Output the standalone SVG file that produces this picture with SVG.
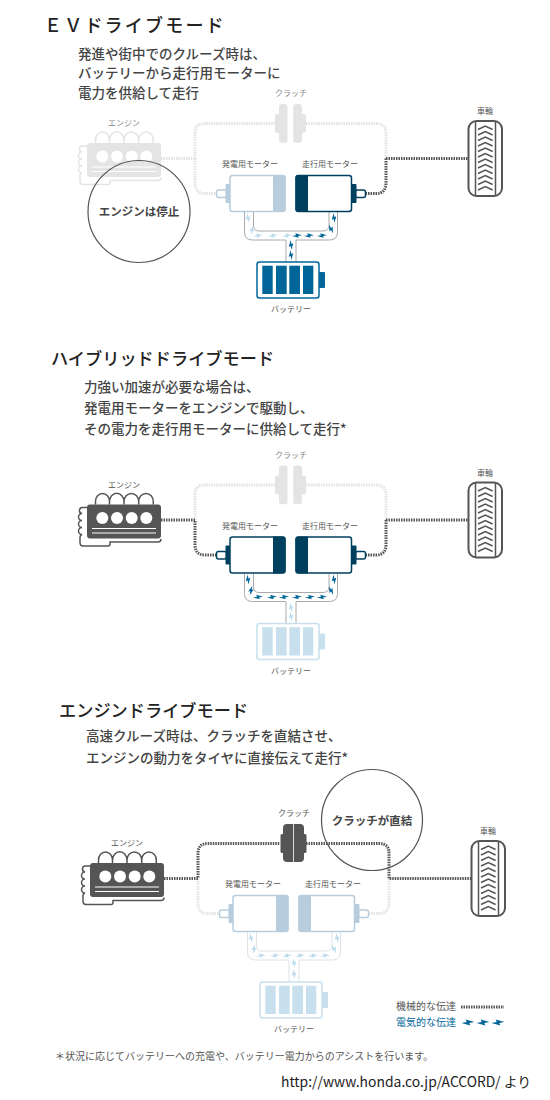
<svg xmlns="http://www.w3.org/2000/svg" width="550" height="1100" viewBox="0 0 550 1100">
<style>
text{font-family:"Noto Sans CJK JP","Noto Sans",sans-serif;}
.h{font-size:17.200px;font-weight:500;fill:#222;}
.b{font-size:13.500px;font-weight:500;fill:#444;}
.l{font-size:8px;fill:#555;text-anchor:middle;}
.c{font-size:11.500px;font-weight:700;fill:#444;text-anchor:middle;}
.ring{fill:none;stroke:#555;stroke-width:1.200;}
.on{fill:none;stroke:#555;stroke-width:3;stroke-dasharray:1.500 1;}
.off{fill:none;stroke:#e3e3e3;stroke-width:3;stroke-dasharray:1.500 1;}
.w{fill:none;stroke:#aaa;stroke-width:1;}
.wl{fill:none;stroke:#dde3e8;stroke-width:1;}
.eon{color:#555;}.eoff{color:#e4e4e4;}
.mon{color:#00405f;}.moff{color:#b7cddd;}
.bon{color:#00669a;}.boff{color:#c8e0ed;}
.zon{color:#00669a;}.zoff{color:#bcdcec;}
</style>
<defs>
<g id="engine">
<path d="M87 146H83a3 3 0 0 0 -1 6a3.500 3.500 0 0 0 0 7a3.500 3.500 0 0 0 0 7a3.500 3.500 0 0 0 0 7a3 3 0 0 0 -2 3V181q0 3.500 3 3.500H108q2 0 2-2V180.500H158q3 0 3-3" fill="#fff" stroke="currentColor" stroke-width="1.500"/>
<path d="M95.500 143v-3a7 8 0 0 1 14 0v3M109.500 143v-3a7 8 0 0 1 14.500 0v3M124 143v-3a7.300 8 0 0 1 14.700 0v3M138.700 143v-3a7.300 8 0 0 1 14.600 0v3" fill="#fff" stroke="currentColor" stroke-width="1.500"/>
<rect x="87" y="143" width="74" height="34" rx="3" fill="currentColor"/>
<g fill="#fff"><circle cx="102.300" cy="156.500" r="6"/><circle cx="117" cy="156.500" r="6"/><circle cx="131.700" cy="156.500" r="6"/><circle cx="146.300" cy="156.500" r="6"/></g>
<path d="M92 167H156M92 171.500H156" stroke="#fff" stroke-width="1.200"/>
</g>
<g id="clutch" fill="currentColor">
<path d="M278 114h1v-7q0-3 3-3h3q2.500 0 2.500 3v33q0 2.700-2.500 2.700h-3q-3 0-3-3v-7h-1q-3 0-3-1.500v-16q0-1.200 3-1.200z"/>
<path d="M303 114h-1v-7q0-3-3-3h-3q-2.800 0-2.800 3v33q0 2.700 2.800 2.700h3q3 0 3-3v-7h1q3 0 3-1.500v-16q0-1.200-3-1.200z"/>
</g>
<g id="clutch-closed" fill="currentColor">
<path d="M280 114v-6q0-4 4-4h13q4 0 4 4v6h1q1.500 0 1.500 1.500v16q0 1.500-1.500 1.500h-1v5q0 4-4 4h-13q-4 0-4-4v-5h-1q-1.500 0-1.500-1.500v-16q0-1.500 1.500-1.500z"/>
</g>
<g id="gen">
<rect x="216.500" y="190" width="10" height="7.500" rx="2" fill="#fff" stroke="currentColor" stroke-width="1.500"/>
<rect x="225.500" y="184" width="6" height="19" rx="1" fill="currentColor"/>
<rect x="230" y="175.500" width="55" height="36" rx="2.500" fill="#fff" stroke="currentColor" stroke-width="1.500"/>
<path d="M273 175h10q2.500 0 2.500 2.500v32q0 2.500-2.500 2.500h-10z" fill="currentColor"/>
</g>
<g id="trac">
<rect x="355.500" y="190" width="10" height="7.500" rx="2" fill="#fff" stroke="currentColor" stroke-width="1.500"/>
<rect x="350.500" y="184" width="6" height="19" rx="1" fill="currentColor"/>
<rect x="296" y="175.500" width="55.500" height="36" rx="2.500" fill="#fff" stroke="currentColor" stroke-width="1.500"/>
<path d="M308 175h-10q-2.500 0-2.500 2.500v32q0 2.500 2.500 2.500h10z" fill="currentColor"/>
</g>
<g id="battery">
<rect x="319" y="272" width="6" height="16" rx="1" fill="currentColor"/>
<rect x="257" y="262" width="62" height="36" rx="2.500" fill="#fff" stroke="currentColor" stroke-width="1.500"/>
<g fill="currentColor"><rect x="262.300" y="265.700" width="10.400" height="28.300"/><rect x="276" y="265.700" width="10.700" height="28.300"/><rect x="289.300" y="265.700" width="10.700" height="28.300"/><rect x="303" y="265.700" width="10.300" height="28.300"/></g>
</g>
<g id="tire">
<rect x="468.500" y="121" width="33.500" height="75" rx="8" fill="#fff" stroke="#555" stroke-width="2"/>
<path d="M475.500 121V196M495.500 121V196" stroke="#555" stroke-width="1.500" fill="none"/>
<path d="M478 129.500L485.300 126L492.600 129.500M478 135L485.300 131.500L492.600 135M478 140.500L485.300 137L492.600 140.500M478 146L485.300 142.500L492.600 146M478 151.500L485.300 148L492.600 151.500M478 157L485.300 153.500L492.600 157M478 162.500L485.300 159L492.600 162.500M478 168L485.300 164.500L492.600 168M478 173.500L485.300 170L492.600 173.500M478 179L485.300 175.500L492.600 179M478 184.500L485.300 181L492.600 184.500M478 190L485.300 186.500L492.600 190" fill="none" stroke="#555" stroke-width="1.500"/>
</g>
<path id="wires-path" d="M244.500 212V232Q244.500 240 252.500 240H286V262M296 262V240H329.500Q337.500 240 337.500 232V212M253.500 212V225Q253.500 231 259 231H323Q329 231 329 225V212"/>
<path id="z" fill="currentColor" d="M-5 .4L-1-.3L-1.800-2.300L5-.3L1 .4L1.800 2.300Z"/>
</defs>

<g id="section-ev">
<text class="h" x="44" y="32" style="font-size:18px;letter-spacing:2.200px">ＥＶドライブモード</text>
<text class="b" x="78" y="59">発進や街中でのクルーズ時は、</text>
<text class="b" x="78" y="78">バッテリーから走行用モーターに</text>
<text class="b" x="78" y="98">電力を供給して走行</text>
<g id="ev-connectors">
<path class="off" d="M161 158.500H195M195 158.500V133Q195 123.500 205 123.500H275M306 123.500H376Q386 123.500 386 133V158.500M195 158.500V183Q195 193.500 205 193.500H216"/>
<path class="on" d="M386 158.500H468M386 158.500V183Q386 193.500 376 193.500H366"/>
<use href="#wires-path" class="w"/>
<g class="zoff"><use href="#z" transform="translate(258 235.500)"/><use href="#z" transform="translate(273 235.500)"/><use href="#z" transform="translate(287 235.500)"/><use href="#z" transform="translate(248 218) rotate(-90)"/><use href="#z" transform="translate(252 230) rotate(-70)"/></g>
<g class="zon"><use href="#z" transform="translate(297 235.500)"/><use href="#z" transform="translate(309 235.500)"/><use href="#z" transform="translate(322 235.500)"/><use href="#z" transform="translate(334 218) rotate(-90)"/><use href="#z" transform="translate(331 229) rotate(-110)"/><use href="#z" transform="translate(291 245) rotate(-90)"/><use href="#z" transform="translate(291 255) rotate(-90)"/></g>
</g>
<g id="ev-engine"><text class="l" style="fill:#888" x="124" y="126">エンジン</text><use href="#engine" class="eoff"/></g>
<g id="ev-clutch"><text class="l" style="fill:#888" x="291" y="96">クラッチ</text><use href="#clutch" class="eoff"/></g>
<g id="ev-generator"><text class="l" x="250" y="167">発電用モーター</text><use href="#gen" class="moff"/></g>
<g id="ev-motor"><text class="l" x="330" y="167">走行用モーター</text><use href="#trac" class="mon"/></g>
<g id="ev-battery"><use href="#battery" class="bon"/><text class="l" x="291" y="312">バッテリー</text></g>
<g id="ev-tire"><text class="l" x="485" y="114">車輪</text><use href="#tire"/></g>
<g id="ev-note"><circle class="ring" cx="139" cy="211.500" r="51"/><text class="c" x="139" y="215.500">エンジンは停止</text></g>
</g>

<text class="h" x="51" y="365">ハイブリッドドライブモード</text>
<text class="b" x="84" y="392">力強い加速が必要な場合は、</text>
<text class="b" x="84" y="413">発電用モーターをエンジンで駆動し、</text>
<text class="b" x="84" y="434">その電力を走行用モーターに供給して走行*</text>
<g id="section-hybrid" transform="translate(0 361.500)">
<g id="hy-connectors">
<path class="off" d="M195 158.500V133Q195 123.500 205 123.500H275M306 123.500H376Q386 123.500 386 133V158.500"/>
<path class="on" d="M161 158.500H195V183Q195 193.500 205 193.500H216M386 158.500H468M386 158.500V183Q386 193.500 376 193.500H366"/>
<use href="#wires-path" class="w"/>
<g class="zon"><use href="#z" transform="translate(258 235.500)"/><use href="#z" transform="translate(272 235.500)"/><use href="#z" transform="translate(284 235.500)"/><use href="#z" transform="translate(297 235.500)"/><use href="#z" transform="translate(310 235.500)"/><use href="#z" transform="translate(322 235.500)"/><use href="#z" transform="translate(248 218) rotate(-90)"/><use href="#z" transform="translate(251 229) rotate(-70)"/><use href="#z" transform="translate(334 218) rotate(-90)"/><use href="#z" transform="translate(331 229) rotate(-110)"/></g>
<g class="zoff"><use href="#z" transform="translate(291 246) rotate(-90)"/><use href="#z" transform="translate(291 255) rotate(-90)"/></g>
</g>
<g id="hy-engine"><text class="l" x="124" y="126">エンジン</text><use href="#engine" class="eon"/></g>
<g id="hy-clutch"><text class="l" style="fill:#888" x="291" y="96">クラッチ</text><use href="#clutch" class="eoff"/></g>
<g id="hy-generator"><text class="l" x="250" y="167">発電用モーター</text><use href="#gen" class="mon"/></g>
<g id="hy-motor"><text class="l" x="330" y="167">走行用モーター</text><use href="#trac" class="mon"/></g>
<g id="hy-battery"><use href="#battery" class="boff"/><text class="l" x="291" y="312">バッテリー</text></g>
<g id="hy-tire"><text class="l" x="485" y="114">車輪</text><use href="#tire"/></g>
</g>

<text class="h" x="59" y="717">エンジンドライブモード</text>
<text class="b" x="86" y="741">高速クルーズ時は、クラッチを直結させ、</text>
<text class="b" x="86" y="763">エンジンの動力をタイヤに直接伝えて走行*</text>
<g id="section-engine" transform="translate(3 720)">
<g id="en-connectors">
<path class="off" d="M195 158.500V183Q195 193.500 205 193.500H216M386 158.500V183Q386 193.500 376 193.500H366"/>
<path class="on" d="M161 158.500H195V133Q195 123.500 205 123.500H277M303 123.500H376Q386 123.500 386 133V158.500H468"/>
<use href="#wires-path" class="wl"/>
<g class="zoff"><use href="#z" transform="translate(258 235.500)"/><use href="#z" transform="translate(272 235.500)"/><use href="#z" transform="translate(284 235.500)"/><use href="#z" transform="translate(297 235.500)"/><use href="#z" transform="translate(310 235.500)"/><use href="#z" transform="translate(322 235.500)"/><use href="#z" transform="translate(248 218) rotate(-90)"/><use href="#z" transform="translate(251 229) rotate(-70)"/><use href="#z" transform="translate(334 218) rotate(-90)"/><use href="#z" transform="translate(331 229) rotate(-110)"/><use href="#z" transform="translate(291 243) rotate(-90)"/><use href="#z" transform="translate(291 254) rotate(-90)"/></g>
</g>
<g id="en-engine"><text class="l" x="124" y="126">エンジン</text><use href="#engine" class="eon"/></g>
<g id="en-clutch"><text class="l" x="291" y="96">クラッチ</text><use href="#clutch-closed" class="eon"/><path d="M290.500 104V143" stroke="#fff" stroke-width=".8"/></g>
<g id="en-generator"><text class="l" x="250" y="167">発電用モーター</text><use href="#gen" class="moff"/></g>
<g id="en-motor"><text class="l" x="330" y="167">走行用モーター</text><use href="#trac" class="moff"/></g>
<g id="en-battery"><use href="#battery" class="boff"/><text class="l" x="291" y="312">バッテリー</text></g>
<g id="en-tire"><text class="l" x="485" y="114">車輪</text><use href="#tire"/></g>
</g>
<g id="en-note"><circle class="ring" cx="372" cy="820" r="50.500"/><text class="c" x="372" y="824.500">クラッチが直結</text></g>

<g id="legend">
<text x="396" y="1010" style="font-size:10px;fill:#555">機械的な伝達</text>
<path d="M461 1007H504" stroke="#555" stroke-width="3" stroke-dasharray="1.500 1" fill="none"/>
<text x="396" y="1026" style="font-size:10px;fill:#00669a">電気的な伝達</text>
<g class="zon"><use href="#z" transform="translate(468 1022.500) scale(1.300)"/><use href="#z" transform="translate(483 1022.500) scale(1.300)"/><use href="#z" transform="translate(498 1022.500) scale(1.300)"/></g>
</g>
<text x="55" y="1060" style="font-size:10px;fill:#555">＊状況に応じてバッテリーへの充電や、バッテリー電力からのアシストを行います。</text>
<text x="281" y="1087" style="font-size:13.900px;fill:#222">http://www.honda.co.jp/ACCORD/ より</text>
</svg>
